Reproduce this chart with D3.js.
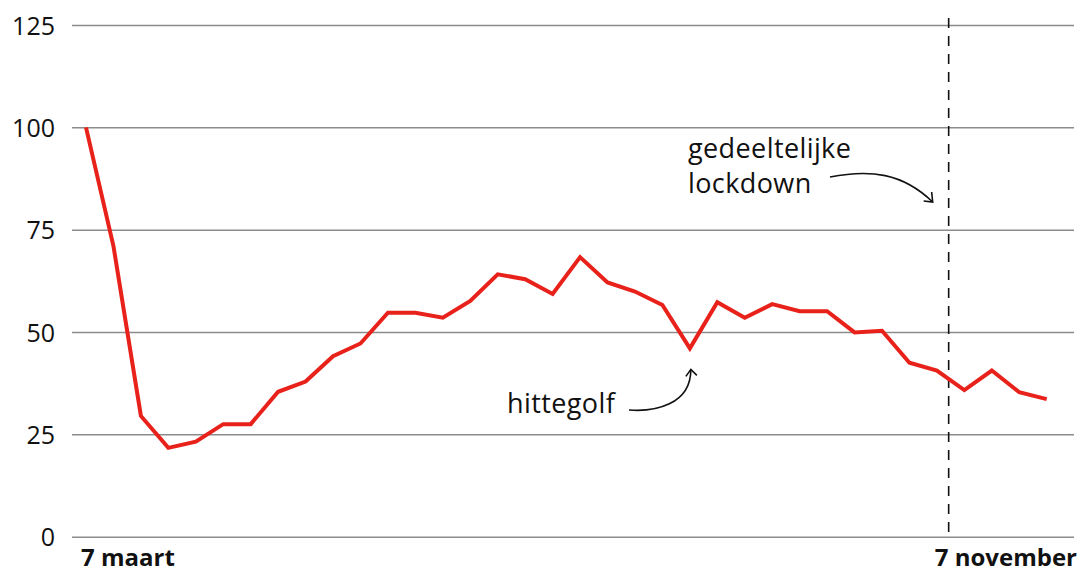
<!DOCTYPE html>
<html>
<head>
<meta charset="utf-8">
<script src="https://cdn.jsdelivr.net/npm/d3@7"></script>
<style>
  html, body { margin: 0; padding: 0; background: #fff; }
  svg { display: block; font-family: "Open Sans", sans-serif; }
</style>
</head>
<body>
<svg id="chart" width="1082" height="573"></svg>
<script>
// ---- data ----
const dates = [
  "2020-03-07","2020-03-14","2020-03-21","2020-03-28","2020-04-04","2020-04-11",
  "2020-04-18","2020-04-25","2020-05-02","2020-05-09","2020-05-16","2020-05-23",
  "2020-05-30","2020-06-06","2020-06-13","2020-06-20","2020-06-27","2020-07-04",
  "2020-07-11","2020-07-18","2020-07-25","2020-08-01","2020-08-08","2020-08-15",
  "2020-08-22","2020-08-29","2020-09-05","2020-09-12","2020-09-19","2020-09-26",
  "2020-10-03","2020-10-10","2020-10-17","2020-10-24","2020-10-31","2020-11-07"
];
const values = [
  100, 71, 29.5, 21.7, 23.2, 27.5,
  27.5, 35.4, 37.9, 44.1, 47.2, 54.7,
  54.7, 53.5, 57.6, 64.1, 62.9, 59.3,
  68.3, 62.1, 59.9, 56.6, 46.0, 57.3,
  53.5, 56.8, 55.1, 55.1, 49.9, 50.3,
  42.5, 40.6, 35.8, 40.6, 35.3, 33.6
];
const yTicks = [0, 25, 50, 75, 100, 125];
const xLabels = ["7 maart", "7 november"];
const lockdownDate = "2020-10-13";
const heatwaveDate = "2020-08-08";
const lockdownLabel = ["gedeeltelijke", "lockdown"];
const heatwaveLabel = "hittegolf";

// ---- layout ----
const parse = d3.utcParse("%Y-%m-%d");
const data = dates.map((d, i) => ({ date: parse(d), value: values[i] }));

const gridLeft = 72, gridRight = 1074;
const x = d3.scaleUtc()
  .domain([parse(dates[0]), parse(dates[dates.length - 1])])
  .range([86, 1046.7]);
const y = d3.scaleLinear().domain([0, 125]).range([536.7, 25]);

const svg = d3.select("#chart");

// gridlines + y labels via axis
const yAxis = d3.axisLeft(y)
  .tickValues(yTicks)
  .tickSize(-(gridRight - gridLeft))
  .tickPadding(17)
  .tickFormat(d3.format("d"));
const gy = svg.append("g")
  .attr("transform", `translate(${gridLeft},0)`)
  .call(yAxis);
gy.select(".domain").remove();
gy.selectAll(".tick line").attr("stroke", "#8c8c8c").attr("stroke-width", 1.5);
gy.selectAll(".tick text")
  .attr("fill", "#111")
  .style("font-size", "25px")
  .style("font-family", "'Open Sans', sans-serif")
  .attr("dy", "0.36em");

// lockdown dashed line
const xl = x(parse(lockdownDate));
svg.append("line")
  .attr("x1", xl).attr("x2", xl)
  .attr("y1", y(125) - 7).attr("y2", y(0))
  .attr("stroke", "#111").attr("stroke-width", 1.6)
  .attr("stroke-dasharray", "10,8");

// data line
svg.append("path")
  .datum(data)
  .attr("fill", "none")
  .attr("stroke", "#e8221b")
  .attr("stroke-width", 4)
  .attr("stroke-linejoin", "miter")
  .attr("d", d3.line().x(d => x(d.date)).y(d => y(d.value)));

// x labels
svg.append("text")
  .attr("x", gridLeft + 9).attr("y", 566)
  .attr("text-anchor", "start")
  .style("font-size", "24px").style("font-weight", "700")
  .attr("fill", "#111")
  .text(xLabels[0]);
svg.append("text")
  .attr("x", gridRight + 3).attr("y", 566)
  .attr("text-anchor", "end")
  .style("font-size", "24px").style("font-weight", "700")
  .attr("fill", "#111")
  .text(xLabels[1]);

// annotations
const annStyle = sel => sel.style("font-size", "27px").attr("fill", "#111").style("letter-spacing", "0.4px");
svg.append("text").attr("x", 688).attr("y", 158).call(annStyle).text(lockdownLabel[0]);
svg.append("text").attr("x", 688).attr("y", 193).call(annStyle).text(lockdownLabel[1]);

// lockdown arrow
const lx1 = 830, ly1 = 177, lx2 = xl - 16, ly2 = 202;
svg.append("path")
  .attr("d", `M${lx1},${ly1} C${lx1 + 40},${ly1 - 8} ${lx2 - 30},${ly1 - 4} ${lx2},${ly2}`)
  .attr("fill", "none").attr("stroke", "#111").attr("stroke-width", 1.6);
svg.append("path")
  .attr("d", `M${lx2 - 9},${ly2 - 1} L${lx2},${ly2} L${lx2 - 1},${ly2 - 10}`)
  .attr("fill", "none").attr("stroke", "#111").attr("stroke-width", 1.6)
  .attr("stroke-linejoin", "miter");

// heatwave label + arrow
const xh = x(parse(heatwaveDate));
const yh = y(values[dates.indexOf(heatwaveDate)]);
svg.append("text").attr("x", 507).attr("y", 413).call(annStyle).text(heatwaveLabel);
const hx1 = 629, hy1 = 410, hx2 = xh + 1, hy2 = yh + 21;
svg.append("path")
  .attr("d", `M${hx1},${hy1} C${hx1 + 25},${hy1 + 2} ${hx2},${hy1 - 5} ${hx2},${hy2}`)
  .attr("fill", "none").attr("stroke", "#111").attr("stroke-width", 1.6);
svg.append("path")
  .attr("d", `M${hx2 - 5},${hy2 + 7} L${hx2},${hy2} L${hx2 + 6},${hy2 + 6}`)
  .attr("fill", "none").attr("stroke", "#111").attr("stroke-width", 1.6)
  .attr("stroke-linejoin", "miter");
</script>
</body>
</html>
